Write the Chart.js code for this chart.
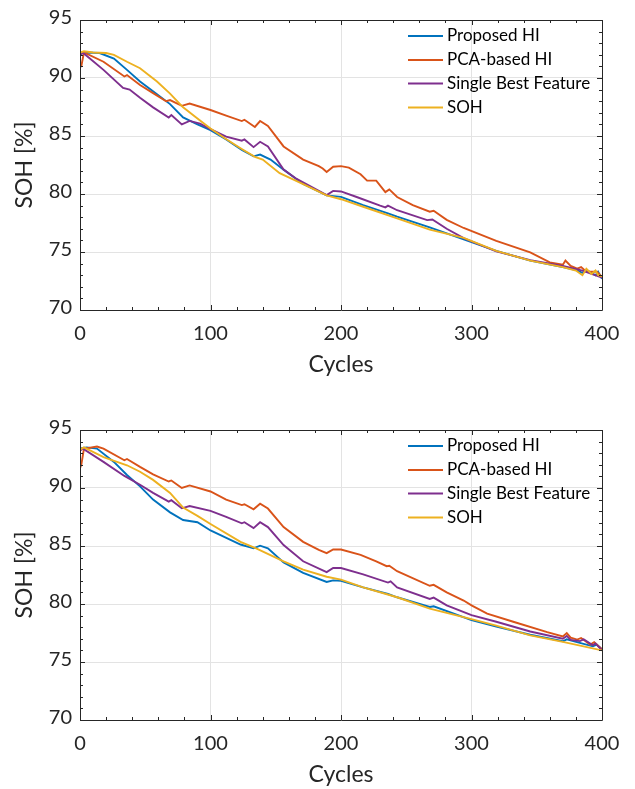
<!DOCTYPE html>
<html><head><meta charset="utf-8">
<script src="https://cdn.jsdelivr.net/npm/chart.js@4"></script>
<style>
html,body{margin:0;padding:0;background:#fff;width:635px;height:789px;overflow:hidden;position:relative}
canvas{position:absolute;left:0}
#c1{top:0}
#c2{top:410px}
</style></head><body>
<canvas id="c1" width="635" height="389"></canvas>
<canvas id="c2" width="635" height="389"></canvas>
<script>
const seriesLabels = ['Proposed HI', 'PCA-based HI', 'Single Best Feature', 'SOH'];
const seriesColors = ['#0072BD', '#D95319', '#7E2F8E', '#EDB120'];
const xTickValues = [0, 100, 200, 300, 400];
const yTickValues = [70, 75, 80, 85, 90, 95];
const xAxisTitle = 'Cycles';
const yAxisTitle = 'SOH [%]';

// ---- Top chart ----
const topProposedX = [0, 5, 15, 26, 36, 46, 59, 69, 79, 90, 100, 112, 124, 133, 138, 146, 156, 171, 189, 200, 217, 236, 243, 268, 294, 319, 345, 370, 380, 385, 388, 395, 397, 400];
const topProposedY = [92.1, 92.2, 92.15, 91.68, 90.7, 89.7, 88.6, 87.75, 86.6, 86.0, 85.5, 84.7, 83.8, 83.25, 83.4, 82.97, 82.1, 80.86, 79.88, 79.75, 79.04, 78.33, 78.05, 77.12, 76.08, 75.1, 74.26, 73.7, 73.45, 73.2, 73.45, 73.0, 73.3, 72.7];

const topPcaX = [0, 1, 3, 18, 34, 36, 46, 56, 66, 69, 78, 84, 100, 112, 124, 126, 134, 138, 144, 156, 171, 183, 186, 189, 194, 200, 206, 215, 220, 227, 234, 237, 243, 255, 268, 271, 281, 294, 319, 345, 360, 370, 372, 376, 381, 384, 388, 396, 400];
const topPcaY = [91.0, 91.0, 92.2, 91.4, 90.13, 90.25, 89.4, 88.7, 88.0, 88.1, 87.6, 87.8, 87.24, 86.76, 86.29, 86.4, 85.78, 86.29, 85.87, 84.1, 82.97, 82.4, 82.2, 81.9, 82.35, 82.4, 82.27, 81.7, 81.15, 81.15, 80.16, 80.4, 79.74, 79.04, 78.47, 78.55, 77.77, 77.07, 75.95, 74.96, 74.1, 73.9, 74.26, 73.8, 73.56, 73.7, 73.3, 73.3, 72.85];

const topSingleX = [0, 2, 18, 33, 38, 46, 56, 68, 70, 78, 84, 92, 100, 112, 124, 126, 133, 138, 144, 156, 166, 189, 194, 200, 212, 230, 234, 236, 243, 266, 270, 281, 294, 319, 345, 370, 385, 400];
const topSingleY = [91.9, 92.2, 90.7, 89.15, 89.0, 88.3, 87.47, 86.6, 86.8, 86.0, 86.3, 86.06, 85.6, 84.94, 84.6, 84.7, 84.04, 84.5, 84.1, 82.1, 81.3, 79.9, 80.27, 80.22, 79.74, 79.0, 78.85, 79.0, 78.6, 77.75, 77.8, 77.0, 76.2, 75.05, 74.3, 73.8, 73.4, 72.8];

const topSohX = [0, 3, 10, 20, 26, 36, 46, 59, 69, 79, 90, 100, 111, 123, 134, 140, 153, 171, 189, 200, 217, 243, 268, 294, 319, 345, 370, 380, 385, 388, 392, 395, 397, 400];
const topSohY = [92.2, 92.3, 92.2, 92.15, 92.0, 91.4, 90.84, 89.7, 88.65, 87.47, 86.5, 85.64, 84.8, 83.95, 83.2, 82.97, 81.8, 80.86, 79.88, 79.55, 78.9, 77.9, 76.93, 76.22, 75.1, 74.26, 73.7, 73.4, 73.0, 73.55, 73.1, 73.4, 73.0, 72.9];

// ---- Bottom chart ----
const botProposedX = [0, 5, 13, 26, 36, 46, 56, 69, 79, 90, 100, 123, 133, 138, 144, 156, 171, 189, 194, 200, 217, 236, 243, 268, 271, 300, 319, 345, 370, 373, 383, 393, 396, 400];
const botProposedY = [93.4, 93.5, 93.4, 92.25, 91.12, 90.14, 89.0, 87.9, 87.24, 87.05, 86.34, 85.13, 84.8, 85.03, 84.8, 83.59, 82.69, 81.9, 82.04, 81.99, 81.43, 80.86, 80.58, 79.74, 79.8, 78.61, 78.05, 77.35, 76.79, 76.95, 76.65, 76.35, 76.5, 76.09];

const botPcaX = [0, 1, 3, 13, 18, 34, 36, 46, 56, 68, 70, 78, 84, 100, 112, 124, 126, 133, 138, 144, 156, 171, 183, 189, 194, 200, 215, 227, 235, 237, 243, 268, 271, 281, 294, 300, 312, 332, 358, 370, 373, 376, 381, 384, 391, 394, 400];
const botPcaY = [91.7, 92.0, 93.37, 93.57, 93.4, 92.39, 92.5, 91.82, 91.18, 90.56, 90.65, 90.0, 90.22, 89.7, 89.0, 88.53, 88.6, 88.17, 88.65, 88.23, 86.63, 85.36, 84.66, 84.38, 84.71, 84.7, 84.23, 83.68, 83.26, 83.3, 82.83, 81.57, 81.65, 81.0, 80.3, 79.88, 79.17, 78.47, 77.57, 77.2, 77.49, 77.1, 76.93, 77.07, 76.5, 76.7, 76.09];

const botSingleX = [0, 2, 18, 34, 46, 56, 68, 70, 78, 84, 100, 112, 124, 126, 133, 138, 144, 156, 171, 189, 194, 200, 217, 236, 238, 243, 268, 271, 281, 300, 319, 345, 370, 373, 376, 383, 386, 393, 395, 400];
const botSingleY = [93.2, 93.4, 92.25, 91.04, 90.28, 89.58, 88.82, 88.95, 88.25, 88.45, 88.03, 87.52, 86.96, 87.05, 86.54, 87.05, 86.63, 85.08, 83.68, 82.75, 83.11, 83.1, 82.55, 81.85, 81.95, 81.43, 80.44, 80.55, 79.88, 79.04, 78.47, 77.63, 77.0, 77.25, 76.9, 76.8, 76.95, 76.45, 76.6, 76.0];

const botSohX = [0, 3, 18, 36, 46, 56, 69, 79, 90, 100, 123, 135, 156, 171, 189, 200, 217, 243, 268, 300, 319, 345, 370, 400];
const botSohY = [93.3, 93.5, 92.67, 91.96, 91.4, 90.7, 89.58, 88.31, 87.6, 86.9, 85.36, 84.8, 83.68, 82.97, 82.35, 82.1, 81.43, 80.58, 79.6, 78.7, 78.13, 77.3, 76.74, 76.0];

const FONT = 'Lato, "Open Sans", sans-serif';
const AXIS_COLOR = '#262626';

function pts(xs, ys) { return xs.map((x, i) => ({ x: x, y: ys[i] })); }

// Inward box ticks (MATLAB style), positioned by the chart's scales
const boxPlugin = {
  id: 'boxTicks',
  afterDatasetsDraw(chart) {
    const { ctx, chartArea: a, scales } = chart;
    const xs = scales.x, ys = scales.y;
    ctx.save();
    ctx.strokeStyle = AXIS_COLOR;
    ctx.lineWidth = 1;
    ctx.beginPath();
    ctx.rect(Math.round(a.left) + 0.5, Math.round(a.top) + 0.5, Math.round(a.right - a.left), Math.round(a.bottom - a.top));
    ctx.stroke();
    ctx.beginPath();
    for (let v = xs.min; v <= xs.max; v += 20) {
      const px = Math.round(xs.getPixelForValue(v)) + 0.5;
      const len = (v % 100 === 0) ? 5 : 3;
      ctx.moveTo(px, a.bottom); ctx.lineTo(px, a.bottom - len);
      ctx.moveTo(px, a.top); ctx.lineTo(px, a.top + len);
    }
    for (let v = ys.min; v <= ys.max; v += 1) {
      const py = Math.round(ys.getPixelForValue(v)) + 0.5;
      const len = (v % 5 === 0) ? 5 : 3;
      ctx.moveTo(a.left, py); ctx.lineTo(a.left + len, py);
      ctx.moveTo(a.right, py); ctx.lineTo(a.right - len, py);
    }
    ctx.stroke();
    ctx.restore();
  },
  afterDraw(chart) {
    // legend inside the axes (no box, transparent)
    const ctx = chart.ctx;
    const rows = [36, 60, 83.5, 107.5];
    ctx.save();
    ctx.font = '17px ' + FONT;
    ctx.textBaseline = 'middle';
    ctx.textAlign = 'left';
    chart.data.datasets.forEach((ds, i) => {
      const y = rows[ds.legendIndex];
      ctx.strokeStyle = ds.borderColor;
      ctx.lineWidth = 2;
      ctx.beginPath(); ctx.moveTo(408, y); ctx.lineTo(443, y); ctx.stroke();
      ctx.fillStyle = '#000';
      ctx.fillText(ds.label, 447, y);
    });
    ctx.restore();
  }
};

function makeChart(id, series) {
  const datasets = series.map((s, i) => ({
    label: seriesLabels[i],
    data: pts(s[0], s[1]),
    borderColor: seriesColors[i],
    backgroundColor: seriesColors[i],
    borderWidth: 1.9,
    pointRadius: 0,
    tension: 0,
    fill: false,
    legendIndex: i,
    order: 3 - i
  }));
  return new Chart(document.getElementById(id), {
    type: 'line',
    data: { datasets },
    plugins: [boxPlugin],
    options: {
      responsive: false,
      animation: false,
      devicePixelRatio: 1,
      layout: { padding: { left: 0, right: 33, top: 14, bottom: 0 } },
      plugins: { legend: { display: false }, tooltip: { enabled: false } },
      scales: {
        x: {
          type: 'linear', min: 0, max: 400,
          afterBuildTicks: (s) => { s.ticks = xTickValues.map(v => ({ value: v })); },
          afterFit: (s) => { s.height = 79; },
          grid: { color: '#e3e3e3', lineWidth: 1, drawTicks: false },
          border: { display: false },
          ticks: { color: AXIS_COLOR, font: { family: FONT, size: 20 }, padding: 12, maxRotation: 0 },
          title: { display: true, text: xAxisTitle, color: AXIS_COLOR, font: { family: FONT, size: 23 }, padding: { top: 0, bottom: 11 } }
        },
        y: {
          type: 'linear', min: 70, max: 95,
          afterBuildTicks: (s) => { s.ticks = yTickValues.map(v => ({ value: v })); },
          afterFit: (s) => { s.width = 80; },
          grid: { color: '#e3e3e3', lineWidth: 1, drawTicks: false },
          border: { display: false },
          ticks: { color: AXIS_COLOR, font: { family: FONT, size: 20 }, padding: 8, labelOffset: -2 },
          title: { display: true, text: yAxisTitle, color: AXIS_COLOR, font: { family: FONT, size: 23 }, padding: { top: 11, bottom: 0 } }
        }
      }
    }
  });
}

makeChart('c1', [[topProposedX, topProposedY], [topPcaX, topPcaY], [topSingleX, topSingleY], [topSohX, topSohY]]);
makeChart('c2', [[botProposedX, botProposedY], [botPcaX, botPcaY], [botSingleX, botSingleY], [botSohX, botSohY]]);
</script>
</body></html>
